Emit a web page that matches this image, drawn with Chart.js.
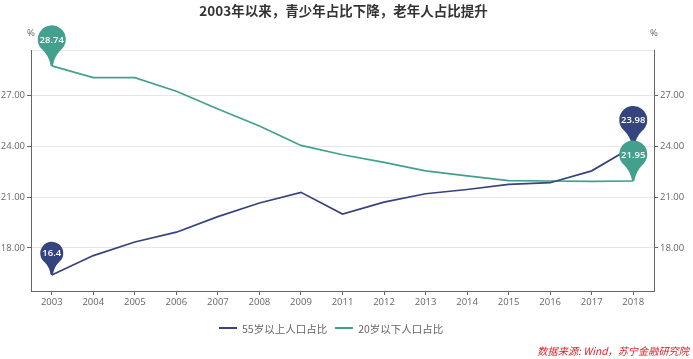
<!DOCTYPE html>
<html>
<head>
<meta charset="utf-8">
<script src="https://cdn.jsdelivr.net/npm/chart.js@4"></script>
<style>
  html, body { margin:0; padding:0; background:#fff; }
  #wrap { position:relative; width:693px; height:359px; overflow:hidden; font-family:"Noto Sans CJK SC", sans-serif; }
  canvas { position:absolute; left:0; top:0; }
  #title { position:absolute; left:0; width:687px; top:0; text-align:center; color:#333; font-size:13.5px; font-weight:bold; line-height:20px; }
  #legend { position:absolute; left:219px; top:320px; height:16px; display:flex; align-items:center; color:#666; font-size:10.5px; white-space:nowrap; }
  #legend span.key { display:inline-block; width:18px; height:2px; margin-right:5px; }
  #legend span.name { margin-right:8px; }
  #source { position:absolute; right:4px; top:343px; color:#d8232a; font-style:italic; font-size:10.2px; line-height:16px; white-space:nowrap; }
</style>
</head>
<body>
<div id="wrap">
  <canvas id="popChart" width="693" height="359"></canvas>
  <div id="title">2003年以来，青少年占比下降，老年人占比提升</div>
  <div id="legend"></div>
  <div id="source">数据来源: Wind，苏宁金融研究院</div>
</div>
<script>
const years = ["2003","2004","2005","2006","2007","2008","2009","2011","2012","2013","2014","2015","2016","2017","2018"];
const over55 = [16.4,17.55,18.35,18.93,19.85,20.65,21.28,20.0,20.7,21.2,21.45,21.75,21.85,22.55,23.98];
const under20 = [28.74,28.05,28.05,27.25,26.2,25.2,24.05,23.5,23.05,22.55,22.25,21.97,21.95,21.93,21.95];
const yTicks = [18,21,24,27];
const seriesNames = ["55岁以上人口占比","20岁以下人口占比"];
const yMin = 15.46, yMax = 29.68;

const NAVY = "#35437f", TEAL = "#43a08c", AXIS = "#666";
const FONT = '"Open Sans", "Noto Sans CJK SC", sans-serif';

/* ---------- html legend ---------- */
const legendEl = document.getElementById("legend");
seriesNames.forEach((name, i) => {
  legendEl.innerHTML += `<span class="key" style="background:${i ? TEAL : NAVY}"></span><span class="name">${name}</span>`;
});

/* ---------- pins + % labels ---------- */
function drawPin(c, x, tipY, r, color, text) {
  const cy = tipY - r * 1.9;
  c.fillStyle = color;
  c.beginPath();
  c.arc(x, cy, r, Math.PI * 0.72, Math.PI * 0.28);
  c.quadraticCurveTo(x + r * 0.2, cy + r * 1.2, x + 1, tipY);
  c.lineTo(x - 1, tipY);
  c.quadraticCurveTo(x - r * 0.2, cy + r * 1.2, x - r * Math.cos(Math.PI * 0.28), cy + r * Math.sin(Math.PI * 0.28));
  c.fill();
  c.fillStyle = "#fff";
  c.font = "600 9.5px " + FONT;
  c.textAlign = "center";
  c.textBaseline = "middle";
  c.fillText(text, x, cy + 0.5);
}

const extras = {
  id: "extras",
  afterDatasetsDraw(chart) {
    const c = chart.ctx, xs = chart.scales.x, ys = chart.scales.y;
    const last = years.length - 1;
    c.save();
    drawPin(c, xs.getPixelForValue(0), ys.getPixelForValue(over55[0]), 11.5, NAVY, String(over55[0]));
    drawPin(c, xs.getPixelForValue(last), ys.getPixelForValue(over55[last]), 14, NAVY, String(over55[last]));
    drawPin(c, xs.getPixelForValue(0), ys.getPixelForValue(under20[0]), 14, TEAL, String(under20[0]));
    drawPin(c, xs.getPixelForValue(last), ys.getPixelForValue(under20[last]), 14, TEAL, String(under20[last]));

    c.fillStyle = AXIS;
    c.font = "9.5px " + FONT;
    c.textAlign = "center";
    c.textBaseline = "middle";
    c.fillText("%", chart.chartArea.left, 33);
    c.fillText("%", chart.chartArea.right, 33);
    c.restore();
  }
};

function valueAxis(position) {
  return {
    position,
    min: yMin,
    max: yMax,
    afterBuildTicks: s => { s.ticks = yTicks.concat([yMax]).map(v => ({ value: v })); },
    afterFit: s => { s.width = position === "left" ? 31 : 39; },
    border: { color: AXIS, width: 1 },
    grid: {
      color: position === "left" ? "#e6e6e6" : "transparent",
      tickColor: ctx => (ctx.tick && ctx.tick.value === yMax ? "transparent" : AXIS),
      tickLength: 4
    },
    ticks: {
      color: AXIS,
      padding: 2,
      autoSkip: false,
      font: { size: 9.5, family: FONT },
      callback: v => (v === yMax ? "" : v.toFixed(2))
    }
  };
}

/* ---------- Create Chart ---------- */
new Chart(document.getElementById("popChart").getContext("2d"), {
  type: "line",
  data: {
    labels: years,
    datasets: [
      { label: seriesNames[0], data: over55, borderColor: NAVY, backgroundColor: NAVY },
      { label: seriesNames[1], data: under20, borderColor: TEAL, backgroundColor: TEAL }
    ]
  },
  options: {
    responsive: false,
    animation: false,
    layout: { padding: { top: 50, bottom: 53, left: 0, right: 0 } },
    elements: { line: { borderWidth: 1.7, tension: 0 }, point: { radius: 0 } },
    scales: {
      x: {
        offset: true,
        afterFit: s => { s.height = 15; },
        border: { color: AXIS, width: 1 },
        grid: { drawOnChartArea: false, tickColor: AXIS, tickLength: 4, offset: false },
        ticks: { color: AXIS, padding: 2, maxRotation: 0, autoSkip: false, font: { size: 9.5, family: FONT } }
      },
      y: valueAxis("left"),
      y1: valueAxis("right")
    },
    plugins: {
      tooltip: { enabled: false },
      title: { display: false },
      legend: { display: false }
    }
  },
  plugins: [extras]
});
</script>
</body>
</html>
